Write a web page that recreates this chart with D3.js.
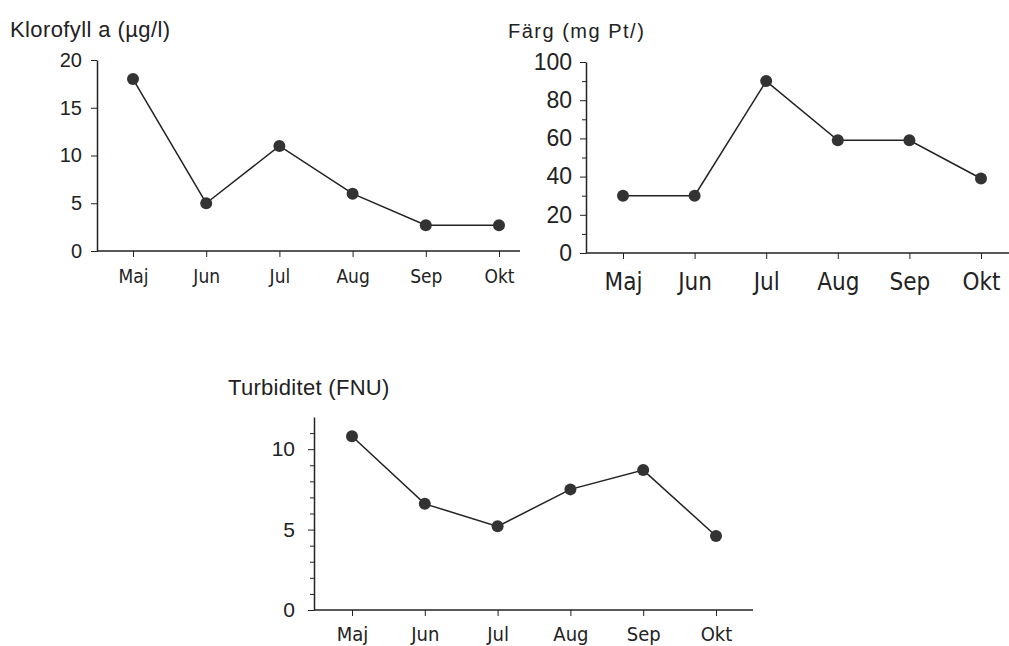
<!DOCTYPE html>
<html>
<head>
<meta charset="utf-8">
<script src="https://cdn.jsdelivr.net/npm/d3@7"></script>
<style>
  body { margin: 0; background: #fff; }
  svg { display: block; }
  svg text { font-family: "Liberation Sans", Arial, sans-serif; }
</style>
</head>
<body>
<div id="chart"></div>
<script>
// months on the x axis (same for all three panels)
const months = ["Maj", "Jun", "Jul", "Aug", "Sep", "Okt"];

// measured values per month
const klorofyll = [18, 5, 11, 6, 2.7, 2.7];
const farg = [30, 30, 90, 59, 59, 39];
const turbiditet = [10.8, 6.6, 5.2, 7.5, 8.7, 4.6];

// y tick labels
const klorofyllTicks = [0, 5, 10, 15, 20];
const fargTicks = [0, 20, 40, 60, 80, 100];
const fargMinor = [10, 30, 50, 70, 90];
const turbiditetTicks = [0, 5, 10];
const turbiditetMinor = [1, 2, 3, 4, 6, 7, 8, 9, 11];

const titles = ["Klorofyll a (\u00b5g/l)", "F\u00e4rg (mg Pt/)", "Turbiditet (FNU)"];

const condensed = "DejaVu Sans Condensed, Liberation Sans, sans-serif";

const svg = d3.select("#chart")
  .append("svg")
  .attr("width", 1009)
  .attr("height", 646);

function drawPanel(p) {
  const g = svg.append("g");

  const x = d3.scalePoint()
    .domain(months)
    .range(p.xRange);

  const y = d3.scaleLinear()
    .domain(p.yDomain)
    .range(p.yRange);

  // minor y ticks
  if (p.minor) {
    g.append("g")
      .attr("transform", `translate(${p.axisX},0)`)
      .call(d3.axisLeft(y).tickValues(p.minor).tickSize(4).tickFormat(""))
      .call(s => s.select(".domain").remove())
      .selectAll("line").attr("stroke", "#222");
  }

  // y axis
  const ya = g.append("g")
    .attr("transform", `translate(${p.axisX},0)`)
    .call(d3.axisLeft(y).tickValues(p.ticks).tickSize(6).tickSizeOuter(0).tickPadding(p.yPad));
  ya.select(".domain").attr("stroke", "#222").attr("stroke-width", 1.5);
  ya.selectAll("line").attr("stroke", "#222");
  ya.selectAll("text")
    .attr("fill", "#222")
    .style("font-size", p.yFont + "px");

  // x axis
  const xa = g.append("g")
    .attr("transform", `translate(0,${p.yRange[0]})`)
    .call(d3.axisBottom(x).tickSize(6).tickPadding(p.xPad));
  xa.select(".domain").remove();
  xa.selectAll("line").attr("stroke", "#222");
  xa.selectAll("text")
    .attr("fill", "#222")
    .style("font-family", condensed)
    .style("font-size", p.xFont + "px");
  xa.append("line")
    .attr("x1", p.axisX)
    .attr("x2", p.axisEnd)
    .attr("stroke", "#222")
    .attr("stroke-width", 1.5);

  // line and dots
  const pts = months.map((m, i) => [m, p.values[i]]);
  g.append("path")
    .datum(pts)
    .attr("fill", "none")
    .attr("stroke", "#222")
    .attr("stroke-width", 1.5)
    .attr("d", d3.line().x(d => x(d[0])).y(d => y(d[1])));

  g.selectAll(".dot")
    .data(pts)
    .enter().append("circle")
    .attr("class", "dot")
    .attr("cx", d => x(d[0]))
    .attr("cy", d => y(d[1]))
    .attr("r", 6)
    .attr("fill", "#333");

  // title
  g.append("text")
    .attr("x", p.titleX)
    .attr("y", p.titleY)
    .attr("fill", "#222")
    .style("font-size", p.titleSize + "px")
    .style("letter-spacing", p.titleSpacing + "px")
    .text(p.title);
}

drawPanel({
  values: klorofyll, ticks: klorofyllTicks, minor: null,
  xRange: [133, 499], yDomain: [0, 20], yRange: [251, 60],
  axisX: 97, axisEnd: 520, yPad: 9, xPad: 13, yFont: 20, xFont: 19,
  title: titles[0], titleX: 10, titleY: 37, titleSize: 22, titleSpacing: 0.4
});

drawPanel({
  values: farg, ticks: fargTicks, minor: fargMinor,
  xRange: [623, 981], yDomain: [0, 100], yRange: [253, 62],
  axisX: 586, axisEnd: 1009, yPad: 8, xPad: 14, yFont: 23, xFont: 24,
  title: titles[1], titleX: 508, titleY: 38, titleSize: 20, titleSpacing: 1.5
});

drawPanel({
  values: turbiditet, ticks: turbiditetTicks, minor: turbiditetMinor,
  xRange: [352, 716], yDomain: [0, 12], yRange: [610, 417],
  axisX: 314, axisEnd: 753, yPad: 13, xPad: 11, yFont: 21, xFont: 20,
  title: titles[2], titleX: 228, titleY: 395, titleSize: 22, titleSpacing: 0.3
});
</script>
</body>
</html>
